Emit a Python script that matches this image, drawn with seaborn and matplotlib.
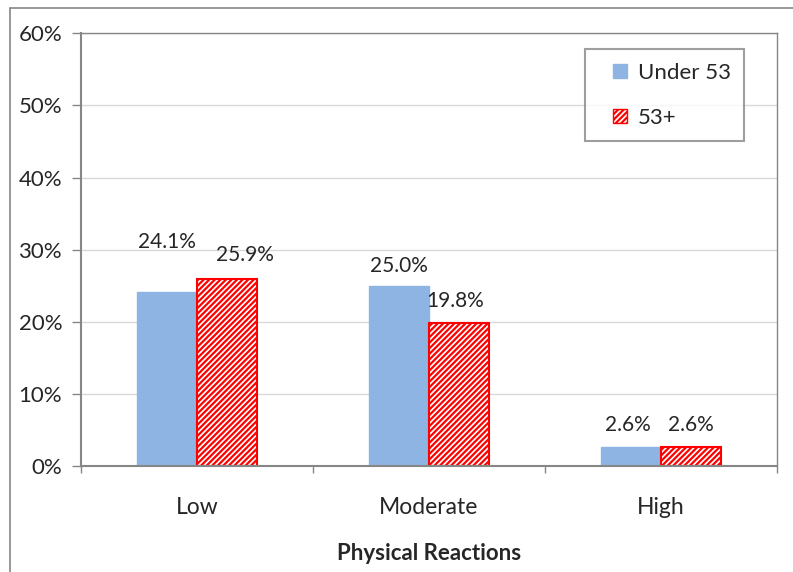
import pandas as pd
import matplotlib.pyplot as plt
import seaborn as sns
from matplotlib import ticker
from matplotlib.patches import Rectangle
from matplotlib.lines import Line2D
from matplotlib.legend_handler import HandlerPatch

# datos
categorias = ["Low", "Moderate", "High"]
grupos = ["Under 53", "53+"]
under_53 = [24.1, 25.0, 2.6]
mas_53 = [25.9, 19.8, 2.6]

azul = "#8EB4E3"
rojo = "#FF0000"
gris = "#868686"

df = pd.DataFrame({
    "reaccion": categorias * 2,
    "grupo": [grupos[0]] * 3 + [grupos[1]] * 3,
    "valor": under_53 + mas_53,
})

sns.set_style("white")
plt.rcParams["font.family"] = ["Lato", "DejaVu Sans"]
plt.rcParams["hatch.linewidth"] = 1.6

fig = plt.figure(figsize=(7.93, 5.72), dpi=100)
ax = fig.add_axes([0.102, 0.185, 0.878, 0.757])

sns.barplot(data=df, x="reaccion", y="valor", hue="grupo", order=categorias,
            hue_order=grupos, palette=[azul, rojo], width=0.52, ax=ax,
            legend=False, saturation=1)

# estilo de barras
for p in ax.containers[0]:
    p.set_facecolor(azul)
    p.set_edgecolor(azul)
for p in ax.containers[1]:
    p.set_facecolor("white")
    p.set_edgecolor(rojo)
    p.set_hatch("//////")
    p.set_linewidth(1.5)

# etiquetas de datos (offsets en puntos, Excel mueve algunas para que no se pisen)
offsets = [[(0, 29), (13, 10)], [(0, 7), (-3, 9)], [(-2, 9), (0, 9)]]
for j, cont in enumerate(ax.containers):
    for i, p in enumerate(cont):
        ax.annotate(f"{p.get_height():.1f}%",
                    (p.get_x() + p.get_width() / 2, p.get_height()),
                    xytext=offsets[i][j], textcoords="offset points",
                    ha="center", va="bottom", fontsize=15)

ax.set_ylim(0, 60)
ax.set_xlim(-0.5, 2.5)
ax.yaxis.set_major_locator(ticker.MultipleLocator(10))
ax.yaxis.set_major_formatter(ticker.FuncFormatter(lambda v, _: f"{v:.0f}%"))
ax.grid(axis="y", color="#d9d9d9", linewidth=1)
ax.set_axisbelow(True)

for s in ax.spines.values():
    s.set_visible(True)
    s.set_color(gris)
    s.set_linewidth(1)
ax.spines["left"].set_linewidth(1.5)
ax.spines["bottom"].set_linewidth(1.5)

ax.tick_params(axis="y", which="major", length=6.5, color=gris, width=1,
               labelsize=16, pad=7, left=True)
ax.tick_params(axis="x", which="major", length=0, labelsize=16.5, pad=22)
ax.set_xticks([-0.5, 0.5, 1.5, 2.5], minor=True)
ax.tick_params(axis="x", which="minor", length=5, color=gris, width=1, bottom=True)

ax.set_xlabel("Physical Reactions", fontsize=16, fontweight="bold", labelpad=18)
ax.set_ylabel("")


# cuadradito de leyenda pegado al texto, como en Excel
def cuadrado(legend, orig_handle, xdescent, ydescent, width, height, fontsize):
    return Rectangle((-xdescent + width - height, -ydescent), height, height)


handles = [Rectangle((0, 0), 1, 1, facecolor=azul, edgecolor=azul),
           Rectangle((0, 0), 1, 1, facecolor="white", edgecolor=rojo, hatch="//////")]
leg = ax.legend(handles, grupos, loc="upper right", bbox_to_anchor=(0.953, 0.963),
                fontsize=16, frameon=True, fancybox=False, handlelength=1.3,
                handleheight=0.6, labelspacing=1.15, borderpad=0.6, handletextpad=0.5,
                borderaxespad=0,
                handler_map={Rectangle: HandlerPatch(patch_func=cuadrado)})
leg.get_frame().set_edgecolor(gris)
leg.get_frame().set_linewidth(1.5)

# borde exterior del grafico (solo arriba e izquierda se ven)
fig.add_artist(Line2D([0.0126, 0.0126], [0, 0.986], transform=fig.transFigure,
                      color=gris, linewidth=1.2))
fig.add_artist(Line2D([0.0126, 1], [0.986, 0.986], transform=fig.transFigure,
                      color=gris, linewidth=1.2))

fig.savefig("out.png", dpi=100)
